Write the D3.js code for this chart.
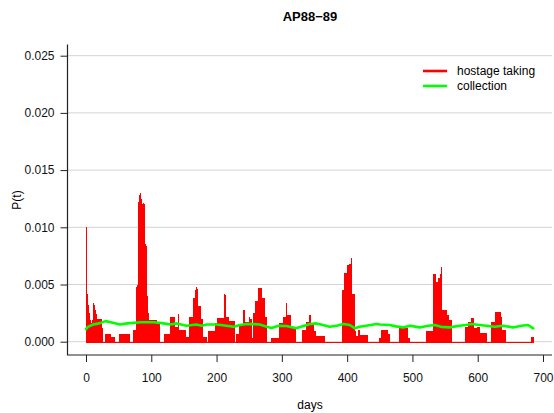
<!DOCTYPE html>
<html><head><meta charset="utf-8">
<script src="https://cdn.jsdelivr.net/npm/d3@7"></script>
<style>
body{margin:0;background:#fff}
svg{display:block}
text{font-family:"Liberation Sans",Arial,Helvetica,sans-serif}
</style>
</head><body>
<svg id="c" width="554" height="413"></svg>
<script>
const chartTitle = "AP88\u221289";
const xLabel = "days";
const yLabel = "P(t)";
const seriesNames = ["hostage taking", "collection"];
const xTicks = [0, 100, 200, 300, 400, 500, 600, 700];
const yTicks = [0, 0.005, 0.010, 0.015, 0.020, 0.025];

// daily P(t) for "hostage taking", day 0 .. 685
const hostageTaking = [
  0.0100, 0.0050, 0.0042, 0.0036, 0.0032, 0.0025, 0.0023, 0.0019, 0.0012, 0.0016, 0.0019, // 0-10
  0.0030, 0.0034, 0.0032, 0.0028, 0.0027, 0.0024, // 11-16
  0.0020, 0.0020, 0.0020, 0.0020, 0.0020, 0.0020, 0.0020, // 17-23
  0.0012, 0.0012, 0.0012, // 24-26
  0, 0, 0, // 27-29
  0.0007, 0.0007, 0.0007, 0.0007, 0.0007, 0.0007, 0.0007, 0.0007, 0.0007, // 30-38
  0.0004, 0.0004, 0.0004, 0.0004, 0.0004, 0.0004, // 39-44
  0, 0, 0, 0, 0, 0, 0, // 45-51
  0.0007, 0.0007, 0.0007, 0.0007, 0.0007, 0.0007, 0.0007, 0.0007, 0.0007, 0.0007, 0.0007, 0.0007, 0.0007, 0.0007, 0.0007, // 52-66
  0, 0, 0, 0, 0, // 67-71
  0.0010, 0.0010, 0.0010, 0.0010, 0.0010, // 72-76
  0.0045, 0.0048, 0.0050, // 77-79
  0.0106, 0.0122, 0.0128, 0.0130, 0.0128, 0.0125, // 80-85
  0.0120, 0.0118, 0.0121, 0.0120, 0.0118, // 86-90
  0.0085, 0.0084, 0.0083, 0.0040, 0.0025, 0.0022, // 91-96
  0.0019, 0.0019, 0.0019, 0.0019, 0.0019, 0.0019, 0.0019, 0.0019, 0.0019, 0.0019, 0.0019, 0.0019, // 97-108
  0.0016, 0.0016, 0.0016, 0.0016, // 109-112
  0, 0, 0, 0, 0, 0, 0, 0, // 113-120
  0.0007, 0.0007, 0.0007, 0.0007, 0.0007, 0.0007, 0.0007, 0.0007, 0.0007, // 121-129
  0.0022, 0.0022, 0.0022, 0.0022, 0.0022, 0.0022, // 130-135
  0.0013, 0.0013, 0.0013, 0.0013, 0.0013, 0.0013, // 136-141
  0.0024, // 142
  0.0010, 0.0010, 0.0010, 0.0010, 0.0010, 0.0010, 0.0010, 0.0010, 0.0010, 0.0010, 0.0010, // 143-153
  0.0004, 0.0004, 0.0004, 0.0004, // 154-157
  0.0022, 0.0022, 0.0022, 0.0022, 0.0022, 0.0022, // 158-163
  0.0038, 0.0038, 0.0038, 0.0038, // 164-167
  0.0045, 0.0048, 0.0048, 0.0046, // 168-171
  0.0031, 0.0031, 0.0031, 0.0031, 0.0031, // 172-176
  0.0020, 0.0020, 0.0020, // 177-179
  0.0004, 0.0004, 0.0004, 0.0004, 0.0004, // 180-184
  0, 0, // 185-186
  0.0009, 0.0009, 0.0009, 0.0009, 0.0009, 0.0009, 0.0009, 0.0009, 0.0009, 0.0009, 0.0009, 0.0009, // 187-198
  0.0016, 0.0016, 0.0016, // 199-201
  0.0021, 0.0021, 0.0021, 0.0021, 0.0021, 0.0021, 0.0021, 0.0021, 0.0021, 0.0021, // 202-211
  0.0042, 0.0041, // 212-213
  0.0022, 0.0022, 0.0022, 0.0022, 0.0022, 0.0022, // 214-219
  0.0018, 0.0018, 0.0018, 0.0018, 0.0018, 0.0018, 0.0018, 0.0018, // 220-227
  0, 0, 0, // 228-230
  0.0007, 0.0007, 0.0007, 0.0007, // 231-234
  0.0015, 0.0015, 0.0015, 0.0015, 0.0015, 0.0015, // 235-240
  0.0028, 0.0028, 0.0028, // 241-243
  0.0017, 0.0017, 0.0017, 0.0017, 0.0017, 0.0017, // 244-249
  0.0022, 0.0020, 0.0020, 0.0020, // 250-253
  0.0003, 0.0003, // 254-255
  0.0025, 0.0025, 0.0025, 0.0025, // 256-259
  0.0036, 0.0036, 0.0036, 0.0036, // 260-263
  0.0047, 0.0047, 0.0047, 0.0047, 0.0047, 0.0047, // 264-269
  0.0038, 0.0038, 0.0038, 0.0038, // 270-273
  0.0022, 0.0022, 0.0022, // 274-276
  0, 0, 0, 0, 0, 0, 0, // 277-283
  0.0003, 0.0003, 0.0003, 0.0003, 0.0003, 0.0003, 0.0003, 0.0003, 0.0003, 0.0003, 0.0003, 0.0003, // 284-295
  0.0016, 0.0016, 0.0016, 0.0016, 0.0016, 0.0016, // 296-301
  0.0022, 0.0022, 0.0022, 0.0022, 0.0022, // 302-306
  0.0034, // 307
  0.0023, 0.0023, 0.0023, 0.0023, 0.0023, 0.0023, 0.0023, // 308-314
  0.0012, 0.0012, 0.0012, 0.0012, 0.0012, 0.0012, 0.0012, // 315-321
  0, 0, 0, 0, 0, 0, 0, 0, 0, 0, // 322-331
  0.0010, 0.0010, 0.0010, 0.0010, 0.0010, 0.0010, // 332-337
  0.0017, 0.0017, 0.0017, 0.0017, // 338-341
  0.0023, 0.0023, 0.0023, // 342-344
  0.0015, 0.0015, 0.0015, 0.0015, // 345-348
  0.0009, 0.0009, 0.0009, 0.0009, // 349-352
  0.0005, 0.0005, 0.0005, 0.0005, 0.0005, 0.0005, 0.0005, 0.0005, 0.0005, 0.0005, 0.0005, 0.0005, 0.0005, 0.0005, // 353-366
  0, 0, 0, 0, 0, 0, 0, 0, 0, 0, 0, 0, 0, 0, 0, 0, 0, 0, 0, 0, 0, 0, 0, 0, 0, 0, // 367-392
  0.0045, 0.0045, 0.0045, // 393-395
  0.0060, 0.0060, 0.0060, 0.0060, // 396-399
  0.0067, 0.0067, 0.0067, 0.0068, 0.0068, 0.0068, // 400-405
  0.0073, 0.0073, // 406-407
  0.0042, 0.0042, 0.0042, 0.0042, // 408-411
  0.0009, 0.0009, // 412-413
  0.0005, 0.0005, 0.0005, 0.0005, // 414-417
  0.0010, 0.0010, // 418-419
  0.0006, 0.0006, 0.0006, 0.0006, 0.0006, 0.0006, 0.0006, 0.0006, 0.0006, 0.0006, 0.0006, 0.0006, // 420-431
  0, 0, 0, 0, 0, 0, 0, 0, 0, 0, 0, 0, 0, 0, 0, 0, 0, // 432-448
  0.0003, 0.0003, 0.0003, // 449-451
  0.0010, 0.0010, 0.0010, 0.0010, 0.0010, 0.0010, 0.0010, 0.0010, 0.0010, 0.0010, 0.0010, // 452-462
  0.0007, 0.0007, 0.0007, // 463-465
  0, 0, 0, 0, 0, 0, 0, 0, 0, 0, 0, 0, 0, 0, // 466-479
  0.0012, 0.0012, 0.0012, 0.0012, 0.0012, 0.0012, 0.0012, 0.0012, 0.0012, 0.0012, 0.0012, 0.0012, 0.0012, 0.0012, // 480-493
  0.0003, 0.0003, // 494-495
  0, 0, 0, 0, 0, 0, 0, 0, 0, 0, 0, 0, 0, 0, 0, 0, 0, 0, 0, 0, 0, 0, 0, 0, 0, 0, // 496-521
  0.0009, 0.0009, 0.0009, 0.0009, 0.0009, 0.0009, 0.0009, 0.0009, 0.0009, 0.0009, 0.0009, // 522-532
  0.0059, 0.0059, 0.0059, 0.0059, // 533-536
  0.0052, 0.0052, 0.0052, // 537-539
  0.0056, 0.0056, 0.0056, // 540-542
  0.0059, 0.0059, 0.0065, // 543-545
  0.0028, 0.0028, 0.0028, 0.0028, 0.0028, 0.0028, 0.0028, // 546-552
  0.0023, 0.0023, 0.0023, 0.0023, // 553-556
  0.0019, 0.0019, 0.0019, 0.0019, // 557-560
  0, 0, 0, 0, 0, 0, 0, 0, 0, 0, 0, 0, 0, 0, 0, 0, 0, 0, 0, 0, 0, // 561-581
  0.0013, 0.0013, 0.0013, 0.0013, // 582-585
  0.0017, 0.0017, 0.0017, 0.0017, 0.0017, // 586-590
  0.0021, 0.0021, 0.0021, 0.0021, // 591-594
  0.0012, 0.0012, 0.0012, 0.0012, // 595-598
  0.0013, 0.0013, 0.0013, 0.0013, 0.0013, // 599-603
  0.0008, 0.0008, 0.0008, 0.0008, 0.0008, 0.0008, 0.0008, 0.0008, 0.0008, 0.0008, // 604-613
  0, 0, 0, 0, 0, 0, 0, // 614-620
  0.0017, 0.0017, 0.0017, 0.0017, 0.0017, 0.0017, // 621-626
  0.0026, 0.0026, 0.0026, 0.0026, 0.0026, 0.0026, 0.0026, 0.0026, 0.0026, // 627-635
  0.0022, 0.0022, // 636-637
  0.0010, 0.0010, 0.0010, 0.0010, 0.0010, // 638-642
  0, 0, 0, 0, 0, 0, 0, 0, 0, 0, 0, 0, 0, 0, 0, 0, 0, 0, 0, 0, 0, 0, 0, 0, 0, 0, 0, 0, 0, 0, 0, 0, 0, 0, 0, 0, 0, 0, 0, // 643-681
  0.0004, 0.0004, 0.0004, 0.0004 // 682-685
];

// "collection" curve, read at these days
const collectionDays = [0, 3, 7, 11, 20, 30, 38, 52, 63, 84, 104, 119, 129, 139, 146, 154, 169, 177, 185, 200, 215, 226, 236, 246, 256, 266, 277, 284, 295, 307, 322, 333, 343, 353, 363, 373, 384, 394, 404, 412, 419, 429, 445, 450, 465, 475, 486, 496, 511, 524, 534, 544, 557, 572, 582, 590, 603, 613, 626, 639, 654, 667, 677, 685];
const collectionValues = [0.0011, 0.0013, 0.0014, 0.0015, 0.0016, 0.0018, 0.0017, 0.0015, 0.0016, 0.0017, 0.0017, 0.0016, 0.0015, 0.0016, 0.0015, 0.0014, 0.0015, 0.0014, 0.0015, 0.0015, 0.0014, 0.0013, 0.00146, 0.00154, 0.00154, 0.0015, 0.0013, 0.0012, 0.0014, 0.00137, 0.00117, 0.00137, 0.00154, 0.0016, 0.00146, 0.0013, 0.0014, 0.00154, 0.00146, 0.00117, 0.0013, 0.0014, 0.00154, 0.0015, 0.00146, 0.00134, 0.00125, 0.0014, 0.00125, 0.0014, 0.00146, 0.0013, 0.00125, 0.0014, 0.00146, 0.00154, 0.00146, 0.0014, 0.0013, 0.0014, 0.00125, 0.0014, 0.00146, 0.00117];

const colors = ["#ff0000", "#00ff00"];

const svg = d3.select("#c");
const x = d3.scaleLinear().domain([0, 700]).range([86, 543]);
const y = d3.scaleLinear().domain([0, 0.025]).range([341.7, 55.7]);

// plot region (R-style 4% extension)
const plotLeft = 67.5, plotRight = 552, plotTop = 44.5, plotBottom = 355;

// gridlines
svg.append("g").selectAll("line").data(yTicks).join("line")
  .attr("x1", plotLeft).attr("x2", plotRight)
  .attr("y1", d => y(d)).attr("y2", d => y(d))
  .attr("stroke", "#d3d3d3").attr("stroke-width", 1);

// red spikes (type "h"); each extends 1px below zero so empty days leave a baseline
svg.append("g").attr("shape-rendering", "crispEdges")
  .selectAll("line").data(hostageTaking).join("line")
  .attr("x1", (d, i) => x(i)).attr("x2", (d, i) => x(i))
  .attr("y1", y(0) + 1).attr("y2", d => y(d))
  .attr("stroke", colors[0]).attr("stroke-width", 1);

// green line
const pts = collectionDays.map((d, i) => [d, collectionValues[i]]);
svg.append("path").datum(pts)
  .attr("d", d3.line().x(d => x(d[0])).y(d => y(d[1])))
  .attr("fill", "none").attr("stroke", colors[1]).attr("stroke-width", 2.6)
  .attr("stroke-linejoin", "round").attr("stroke-linecap", "round");

// axes
const yAxis = svg.append("g").attr("transform", `translate(${plotLeft},0)`)
  .call(d3.axisLeft(y).tickValues(yTicks).tickFormat(d3.format(".3f")).tickSize(7).tickSizeOuter(0).tickPadding(6));
const xAxis = svg.append("g").attr("transform", `translate(0,${plotBottom})`)
  .call(d3.axisBottom(x).tickValues(xTicks).tickFormat(d3.format("d")).tickSize(7).tickSizeOuter(0).tickPadding(11));
[yAxis, xAxis].forEach(g => {
  g.select(".domain").remove();
  g.selectAll(".tick line").attr("stroke", "#222");
  g.selectAll(".tick text").attr("font-size", 12).attr("fill", "#111")
    .attr("font-family", '"Liberation Sans",Arial,sans-serif');
});

// L-shaped box
svg.append("path")
  .attr("d", `M${plotLeft},${plotTop}V${plotBottom}H${plotRight}`)
  .attr("fill", "none").attr("stroke", "#222").attr("stroke-width", 1.2);

// title and labels
svg.append("text").attr("x", 310).attr("y", 21).attr("text-anchor", "middle")
  .attr("font-size", 13).attr("font-weight", "bold").text(chartTitle);
svg.append("text").attr("x", 310).attr("y", 409).attr("text-anchor", "middle")
  .attr("font-size", 12).text(xLabel);
svg.append("text").attr("transform", "translate(21,200) rotate(-90)").attr("text-anchor", "middle")
  .attr("font-size", 12).text(yLabel);

// legend
const lg = svg.append("g");
seriesNames.forEach((name, i) => {
  const yy = 71 + i * 15;
  lg.append("line").attr("x1", 423).attr("x2", 447).attr("y1", yy).attr("y2", yy)
    .attr("stroke", colors[i]).attr("stroke-width", 2.6);
  lg.append("text").attr("x", 457).attr("y", yy).attr("dy", "0.35em")
    .attr("font-size", 12).text(name);
});
</script>
</body></html>
